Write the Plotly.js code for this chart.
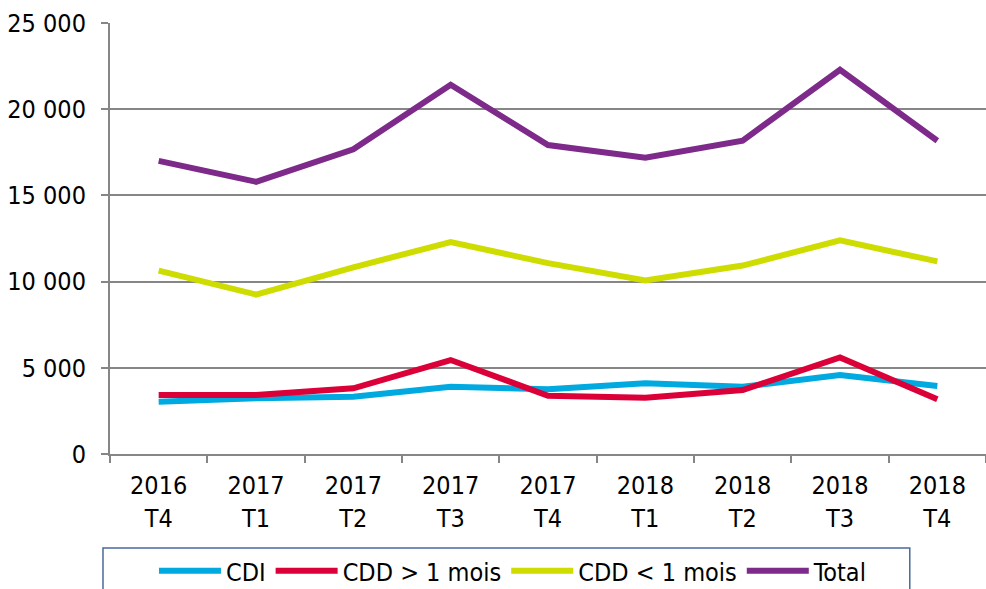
<!DOCTYPE html>
<html>
<head>
<meta charset="utf-8">
<script src="https://cdn.plot.ly/plotly-3.0.1.min.js"></script>
<style>html,body{margin:0;padding:0;background:#fff;}#chart{width:986px;height:589px;}</style>
</head>
<body>
<div id="chart"></div>
<script>
var categories = ["2016<br>T4","2017<br>T1","2017<br>T2","2017<br>T3","2017<br>T4","2018<br>T1","2018<br>T2","2018<br>T3","2018<br>T4"];
var cdi = [3030, 3230, 3320, 3900, 3750, 4100, 3900, 4580, 3940];
var cddPlus = [3420, 3420, 3810, 5450, 3380, 3270, 3710, 5600, 3170];
var cddMoins = [10640, 9250, 10830, 12290, 11070, 10060, 10930, 12390, 11170];
var total = [17000, 15790, 17670, 21420, 17920, 17180, 18180, 22290, 18170];
var seriesNames = ["CDI", "CDD > 1 mois", "CDD < 1 mois", "Total"];
var seriesColors = ["#00a9e0", "#dc0039", "#cfdc00", "#7d2a8a"];

var FONT = "Liberation Sans Narrow, DejaVu Sans Condensed, Arial Narrow, sans-serif";
var data = [cdi, cddPlus, cddMoins, total].map(function(v, i){
  return {
    x: categories, y: v, type: "scatter", mode: "lines",
    name: seriesNames[i],
    line: {color: seriesColors[i], width: 6, shape: "linear"},
    hoverinfo: "skip"
  };
});

var layout = {
  width: 986, height: 589,
  margin: {l: 110, r: 0, t: 23, b: 135},
  paper_bgcolor: "#fff", plot_bgcolor: "#fff",
  separators: ", ",
  font: {family: FONT, size: 25, color: "#000"},
  showlegend: true,
  legend: {
    orientation: "h", xref: "paper", x: 0.46, xanchor: "center",
    yref: "container", y: 0.0696, yanchor: "top",
    borderwidth: 0, bgcolor: "rgba(0,0,0,0)",
    font: {family: FONT, size: 25, color: "#000"},
    itemwidth: 62, tracegroupgap: 0
  },
  shapes: [{
    type: "rect", xref: "paper", yref: "paper", layer: "below",
    x0: -0.008, x1: 0.913, y0: -0.40, y1: -0.2181,
    line: {color: "#4a6a9a", width: 1.5}, fillcolor: "rgba(0,0,0,0)"
  }],
  xaxis: {
    type: "category", tickson: "boundaries", ticks: "outside", ticklen: 7,
    tickcolor: "#868686", tickwidth: 2,
    showline: true, linecolor: "#868686", linewidth: 2,
    showgrid: false, zeroline: false,
    range: [-0.5, 8.5], fixedrange: true,
    ticklabelstandoff: 8,
    tickfont: {family: FONT, size: 25, color: "#000"}
  },
  yaxis: {
    range: [0, 25000], dtick: 5000, tick0: 0, tickformat: ",d",
    ticks: "outside", ticklen: 7, tickcolor: "#868686", tickwidth: 2,
    showline: true, linecolor: "#868686", linewidth: 2,
    showgrid: true, gridcolor: "#868686", gridwidth: 2,
    zeroline: false, fixedrange: true,
    ticklabelstandoff: 10,
    tickfont: {family: FONT, size: 25, color: "#000"}
  }
};
Plotly.newPlot("chart", data, layout, {staticPlot: true, displayModeBar: false});
</script>
</body>
</html>
